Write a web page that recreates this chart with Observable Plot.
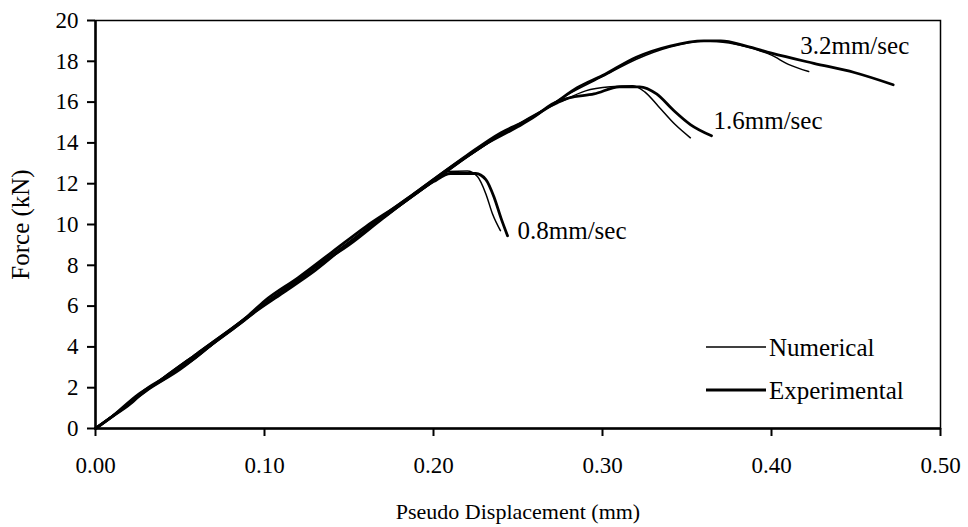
<!DOCTYPE html>
<html>
<head>
<meta charset="utf-8">
<script src="https://cdn.jsdelivr.net/npm/d3@7"></script>
<script src="https://cdn.jsdelivr.net/npm/@observablehq/plot@0.6"></script>
<style>
  html, body { margin: 0; padding: 0; background: #fff; }
  #wrap { position: relative; width: 968px; height: 527px; }
  #wrap svg { display: block; }
  #legend { position: absolute; left: 700px; top: 330px; }
</style>
</head>
<body>
<div id="wrap"><div id="chart"></div><div id="legend"></div></div>
<script>
// Pseudo displacement (mm), Force (kN)
const exp08 = [[0,0],[0.012,0.7],[0.022,1.3],[0.028,1.8],[0.04,2.45],[0.058,3.4],[0.07,4.2],[0.088,5.3],[0.1,6.1],[0.12,7.25],[0.13,7.9],[0.15,9.0],[0.17,10.3],[0.19,11.55],[0.2,12.1],[0.21,12.5],[0.225,12.5],[0.231,12.2],[0.236,11.3],[0.240,10.3],[0.2438,9.45]];
const num08 = [[0,0],[0.02,1.25],[0.04,2.5],[0.06,3.7],[0.08,4.9],[0.1,6.15],[0.12,7.35],[0.14,8.55],[0.16,9.75],[0.18,10.95],[0.2,12.15],[0.208,12.6],[0.22,12.62],[0.226,12.35],[0.231,11.5],[0.235,10.5],[0.2396,9.7]];
const exp16 = [[0,0],[0.01,0.6],[0.025,1.65],[0.04,2.4],[0.06,3.6],[0.08,4.8],[0.095,5.75],[0.11,6.6],[0.13,7.75],[0.15,9.1],[0.17,10.4],[0.19,11.6],[0.21,12.8],[0.23,13.9],[0.25,14.8],[0.26,15.3],[0.27,15.9],[0.28,16.2],[0.295,16.4],[0.31,16.75],[0.322,16.75],[0.332,16.4],[0.342,15.6],[0.352,14.9],[0.3645,14.35]];
const num16 = [[0,0],[0.02,1.25],[0.04,2.5],[0.06,3.7],[0.08,4.9],[0.1,6.1],[0.12,7.3],[0.14,8.5],[0.16,9.7],[0.18,10.9],[0.2,12.1],[0.22,13.3],[0.24,14.4],[0.26,15.4],[0.275,16.0],[0.29,16.55],[0.305,16.75],[0.318,16.8],[0.325,16.5],[0.333,15.8],[0.343,14.9],[0.352,14.25]];
const exp32 = [[0,0],[0.015,0.9],[0.03,1.85],[0.05,2.9],[0.07,4.2],[0.09,5.5],[0.1,6.25],[0.12,7.4],[0.14,8.65],[0.16,9.9],[0.18,11.0],[0.2,12.2],[0.22,13.4],[0.24,14.5],[0.255,15.1],[0.27,15.85],[0.285,16.7],[0.3,17.3],[0.32,18.2],[0.34,18.75],[0.36,19.0],[0.37,19.0],[0.385,18.75],[0.4,18.4],[0.425,17.9],[0.449,17.45],[0.472,16.85]];
const num32 = [[0,0],[0.02,1.2],[0.04,2.45],[0.06,3.65],[0.08,4.85],[0.1,6.1],[0.12,7.3],[0.14,8.5],[0.16,9.7],[0.18,10.9],[0.2,12.1],[0.22,13.3],[0.24,14.4],[0.26,15.35],[0.28,16.4],[0.3,17.25],[0.32,18.1],[0.34,18.7],[0.36,19.0],[0.375,18.9],[0.39,18.6],[0.4,18.3],[0.41,17.85],[0.422,17.5]];

const xTicks = [0, 0.1, 0.2, 0.3, 0.4, 0.5];
const yTicks = [0, 2, 4, 6, 8, 10, 12, 14, 16, 18, 20];
const rateLabels = [
  {x: 0.417, y: 18.77, text: "3.2mm/sec"},
  {x: 0.3657, y: 15.05, text: "1.6mm/sec"},
  {x: 0.2497, y: 9.7, text: "0.8mm/sec"}
];
const seriesNames = ["Numerical", "Experimental"];

const FONT = '"Liberation Serif", "Times New Roman", serif';
const FS = 22, YLABFS = 25, TICKFS = 23, NOTEFS = 25;
const thin = 1.5, thick = 2.8;

const chart = Plot.plot({
  width: 968,
  height: 527,
  marginLeft: 95,
  marginRight: 28,
  marginTop: 20,
  marginBottom: 99,
  style: {fontFamily: FONT, fontSize: FS + "px", color: "#000", background: "#fff"},
  x: {domain: [0, 0.5], ticks: xTicks, tickFormat: d3.format(".2f"), label: "Pseudo Displacement (mm)"},
  y: {domain: [0, 20], ticks: yTicks, label: "Force (kN)"},
  marks: [
    Plot.frame({stroke: "#000", strokeWidth: 1.5}),
    Plot.axisX({ticks: xTicks, tickFormat: d3.format(".2f"), tickSize: 8, tickPadding: 20, strokeWidth: 2, fontSize: TICKFS, fontFamily: FONT,
      label: null}),
    Plot.axisX({ticks: [], label: "Pseudo Displacement (mm)", labelAnchor: "center", labelArrow: "none", labelOffset: 90, fontSize: FS, fontFamily: FONT}),
    Plot.axisY({ticks: yTicks, tickSize: 8, tickPadding: 9, strokeWidth: 2, fontSize: TICKFS, fontFamily: FONT,
      label: null}),
    Plot.axisY({ticks: [], label: "Force (kN)", labelAnchor: "center", labelArrow: "none", labelOffset: 84, fontSize: YLABFS, fontFamily: FONT}),
    Plot.ruleX([0], {stroke: "#000", strokeWidth: 2.5}),
    Plot.ruleY([0], {stroke: "#000", strokeWidth: 2.5}),
    Plot.line(num08, {x: d => d[0], y: d => d[1], stroke: "#000", strokeWidth: thin, curve: "monotone-x"}),
    Plot.line(num16, {x: d => d[0], y: d => d[1], stroke: "#000", strokeWidth: thin, curve: "monotone-x"}),
    Plot.line(num32, {x: d => d[0], y: d => d[1], stroke: "#000", strokeWidth: thin, curve: "monotone-x"}),
    Plot.line(exp08, {x: d => d[0], y: d => d[1], stroke: "#000", strokeWidth: thick, curve: "monotone-x"}),
    Plot.line(exp16, {x: d => d[0], y: d => d[1], stroke: "#000", strokeWidth: thick, curve: "monotone-x"}),
    Plot.line(exp32, {x: d => d[0], y: d => d[1], stroke: "#000", strokeWidth: thick, curve: "monotone-x"}),
    Plot.text(rateLabels, {x: "x", y: "y", text: "text", textAnchor: "start", fontSize: NOTEFS, fontFamily: FONT, fill: "#000"})
  ]
});
document.getElementById("chart").appendChild(chart);

// Legend (inside the plot, lower right)
const leg = d3.select("#legend").append("svg").attr("width", 250).attr("height", 90);
seriesNames.forEach((name, i) => {
  const g = leg.append("g").attr("transform", `translate(0, ${17 + i * 43})`);
  g.append("line").attr("x1", 6).attr("x2", 66).attr("y1", 0).attr("y2", 0)
    .attr("stroke", "#000").attr("stroke-width", i === 0 ? thin : thick);
  g.append("text").attr("x", 69).attr("y", 0).attr("dy", "0.35em")
    .attr("font-family", FONT).attr("font-size", NOTEFS).attr("fill", "#000").text(name);
});
</script>
</body>
</html>
